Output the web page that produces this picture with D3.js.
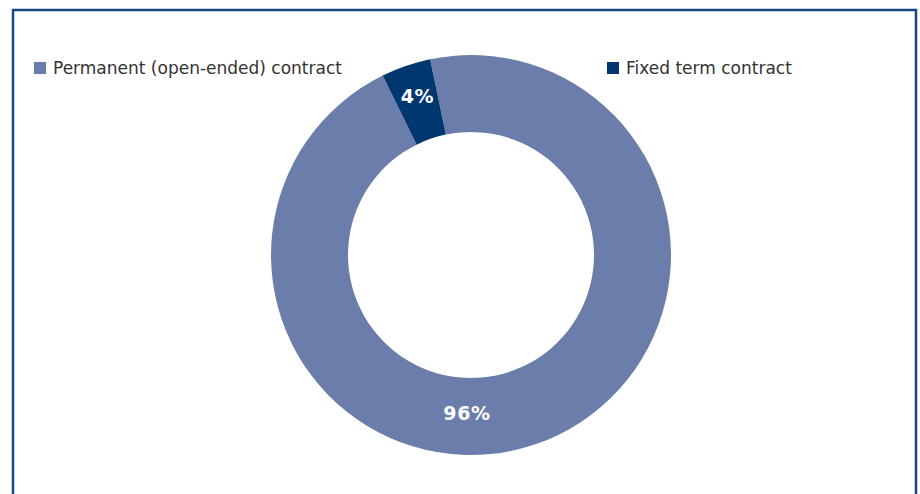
<!DOCTYPE html>
<html>
<head>
<meta charset="utf-8">
<script src="https://cdn.jsdelivr.net/npm/d3@7"></script>
<style>
  html, body { margin: 0; padding: 0; background: #ffffff; }
  svg { display: block; }
</style>
</head>
<body>
<svg id="chart" width="920" height="494"></svg>
<script>
// Contract type shares (percent)
const categories = ["Permanent (open-ended) contract", "Fixed term contract"];
const shares = [96, 4];
const colors = ["#6b7dab", "#00376f"];

const svg = d3.select("#chart");

// Outer frame
svg.append("rect")
  .attr("x", 13).attr("y", 10)
  .attr("width", 903).attr("height", 520)
  .attr("fill", "none")
  .attr("stroke", "#164883")
  .attr("stroke-width", 2.5);

const cx = 471, cy = 255, rOuter = 200, rInner = 123;
const startAngle = -11.8 * Math.PI / 180;

const pie = d3.pie()
  .sort(null)
  .value(d => d.value)
  .startAngle(startAngle)
  .endAngle(startAngle + 2 * Math.PI);

const data = categories.map((c, i) => ({ name: c, value: shares[i], color: colors[i] }));
const arcs = pie(data);

const arc = d3.arc().innerRadius(rInner).outerRadius(rOuter);

const g = svg.append("g").attr("transform", `translate(${cx},${cy})`);

g.selectAll("path.slice")
  .data(arcs)
  .join("path")
  .attr("class", "slice")
  .attr("d", arc)
  .attr("fill", d => d.data.color);

// Labels: small slice at its centroid, large slice at the bottom of the ring
const midR = (rInner + rOuter) / 2;
const labelArc = d3.arc().innerRadius(midR).outerRadius(midR);
const fmt = d => d3.format(".0f")(d) + "%";
g.selectAll("text.val")
  .data(arcs)
  .join("text")
  .attr("class", "val")
  .attr("transform", d => {
    const big = (d.endAngle - d.startAngle) > Math.PI;
    const a = big ? Math.PI : (d.startAngle + d.endAngle) / 2;
    const pt = labelArc.centroid({ startAngle: a, endAngle: a });
    return `translate(${pt[0] - (big ? 4 : 1)},${pt[1] + (big ? -4 : -6)})`;
  })
  .attr("text-anchor", "middle")
  .attr("dominant-baseline", "central")
  .attr("fill", "#ffffff")
  .attr("font-family", "DejaVu Sans, Verdana, sans-serif")
  .attr("font-weight", "bold")
  .attr("font-size", 19)
  .attr("letter-spacing", 0.6)
  .text(d => fmt(d.data.value));

// Legend
const legendX = [34, 607];
const legend = svg.selectAll("g.legend")
  .data(data)
  .join("g")
  .attr("class", "legend")
  .attr("transform", (d, i) => `translate(${legendX[i]},62)`);

legend.append("rect")
  .attr("width", 12).attr("height", 12)
  .attr("fill", d => d.color);

legend.append("text")
  .attr("x", 19).attr("y", 6)
  .attr("dominant-baseline", "central")
  .attr("fill", "#333333")
  .attr("font-family", "DejaVu Sans, Verdana, sans-serif")
  .attr("font-size", 17)
  .text(d => d.name);
</script>
</body>
</html>
